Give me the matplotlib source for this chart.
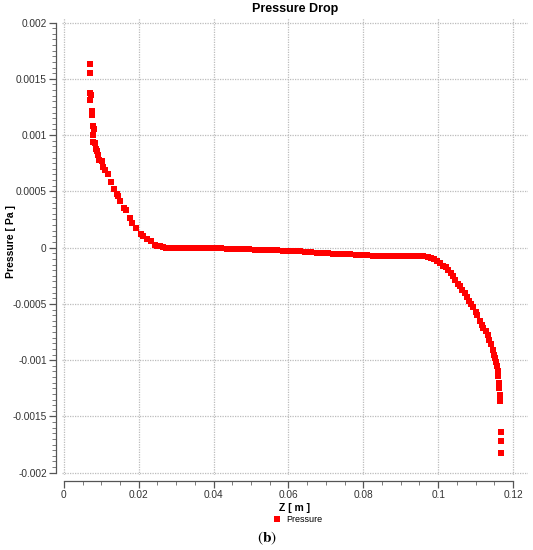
import numpy as np
from matplotlib import pyplot as plt
from matplotlib.ticker import MultipleLocator, FuncFormatter

# Z position [m] and pressure [Pa]
z_inlet = [0.0069, 0.0070, 0.0070, 0.0073, 0.0071, 0.0074, 0.0075, 0.0077, 0.0080, 0.0079,
           0.0078, 0.0083, 0.0086, 0.0089, 0.0092, 0.0094, 0.0101, 0.0105, 0.0110, 0.0117,
           0.0125, 0.0135, 0.0142, 0.0145, 0.0151, 0.0161, 0.0166, 0.0176, 0.0183, 0.0194,
           0.0206, 0.0212, 0.0223, 0.0232, 0.0243, 0.0250, 0.0257, 0.0265, 0.0274]
p_inlet = [0.00163, 0.00155, 0.00137, 0.00136, 0.00131, 0.00121, 0.00118, 0.00108, 0.00105, 0.00100,
           0.00094, 0.00093, 0.00088, 0.00086, 0.00082, 0.00078, 0.00077, 0.00072, 0.00069, 0.00065,
           0.00058, 0.00052, 0.00048, 0.00046, 0.00041, 0.00035, 0.00033, 0.00026, 0.00022, 0.000175,
           0.00012, 0.00010, 0.000077, 0.000056, 0.000027, 0.000018, 0.000012, 0.000005, 0.0]

z_mid = [0.0285, 0.0300, 0.0315, 0.0330, 0.0345, 0.0360, 0.0375, 0.0390, 0.0405, 0.0420,
         0.0435, 0.0450, 0.0465, 0.0480, 0.0495, 0.0510, 0.0525, 0.0540, 0.0555, 0.0570,
         0.0585, 0.0600, 0.0615, 0.0630, 0.0645, 0.0660, 0.0675, 0.0690, 0.0705, 0.0720,
         0.0735, 0.0750, 0.0765, 0.0780, 0.0795, 0.0810, 0.0825, 0.0840, 0.0855, 0.0870,
         0.0885, 0.0900, 0.0915, 0.0930, 0.0945, 0.0960, 0.0972]
p_mid = [0.0, 0.0, 0.0, 0.0, 0.0, -0.000001, -0.000002, -0.000003, -0.000004, -0.000006,
         -0.000008, -0.000010, -0.000012, -0.000014, -0.000016, -0.000018, -0.000019, -0.000021, -0.000023, -0.000024,
         -0.000026, -0.000028, -0.000030, -0.000033, -0.000036, -0.000040, -0.000044, -0.000047, -0.000050, -0.000053,
         -0.000055, -0.000057, -0.000060, -0.000063, -0.000066, -0.000068, -0.000070, -0.000071, -0.000072, -0.000073,
         -0.000074, -0.000075, -0.000075, -0.000076, -0.000076, -0.000077, -0.000080]

z_outlet = [0.0982, 0.0990, 0.0998, 0.1006, 0.1013, 0.1020, 0.1027, 0.1034, 0.1040, 0.1046,
            0.1052, 0.1058, 0.1065, 0.1072, 0.1078, 0.1083, 0.1088, 0.1094, 0.1100, 0.1105,
            0.1111, 0.1116, 0.1121, 0.1128, 0.1132, 0.1137, 0.1142, 0.1146, 0.1150, 0.1152,
            0.1155, 0.1157, 0.1159, 0.1160, 0.1162, 0.1163, 0.1165, 0.1165, 0.1167, 0.1169, 0.1169]
p_outlet = [-0.000088, -0.000100, -0.000120, -0.000140, -0.000160, -0.000175, -0.000196, -0.000225, -0.000255, -0.000290,
            -0.000320, -0.000344, -0.000375, -0.000405, -0.000440, -0.000470, -0.000500, -0.000530, -0.000570, -0.000600,
            -0.000650, -0.000684, -0.000710, -0.000745, -0.000780, -0.000818, -0.000860, -0.000907, -0.000950, -0.000980,
            -0.001020, -0.001055, -0.001100, -0.001144, -0.001200, -0.001247, -0.001307, -0.001366, -0.001640, -0.001716, -0.001825]

z = np.array(z_inlet + z_mid + z_outlet)
pressure = np.array(p_inlet + p_mid + p_outlet)

x_ticks = [0, 0.02, 0.04, 0.06, 0.08, 0.1, 0.12]
y_ticks = [-0.002, -0.0015, -0.001, -0.0005, 0, 0.0005, 0.001, 0.0015, 0.002]

plt.rcParams["font.family"] = ["Liberation Sans", "DejaVu Sans"]

fig = plt.figure(figsize=(5.33, 5.5), dpi=100)
ax = fig.add_axes([62 / 533, 75 / 550, 466 / 533, 457 / 550])

ax.plot(z, pressure, linestyle="none", marker="s", markersize=4.4,
        markeredgewidth=0, color="#ff0000", label="Pressure")

ax.set_xlim(-0.0005, 0.124)
ax.set_ylim(-0.00202, 0.00204)

ax.set_xticks(x_ticks)
ax.set_yticks(y_ticks)
ax.xaxis.set_minor_locator(MultipleLocator(0.005))
ax.yaxis.set_minor_locator(MultipleLocator(0.00005))
fmt = FuncFormatter(lambda v, _: "0" if abs(v) < 1e-12 else ("%g" % v))
ax.xaxis.set_major_formatter(fmt)
ax.yaxis.set_major_formatter(fmt)

ax.grid(True, which="major", color="#bcbcbc", linestyle=(0, (1, 1)), linewidth=0.9)

for side in ["top", "right"]:
    ax.spines[side].set_visible(False)
ax.spines["left"].set_position(("outward", 4))
ax.spines["bottom"].set_position(("outward", 4))
ax.spines["left"].set_bounds(-0.002, 0.002)
ax.spines["bottom"].set_bounds(0, 0.12)
for side in ["left", "bottom"]:
    ax.spines[side].set_color("#555555")
    ax.spines[side].set_linewidth(0.9)

ax.tick_params(which="major", direction="out", length=5, width=0.9, color="#555555",
               labelsize=7.3, labelcolor="#333333", pad=2)
ax.tick_params(which="minor", direction="out", length=3, width=0.6, color="#666666")

ax.set_title("Pressure Drop", fontsize=9, fontweight="bold", pad=4)
ax.set_xlabel("Z [ m ]", fontsize=7.5, fontweight="bold", labelpad=2)
ax.set_ylabel("Pressure [ Pa ]", fontsize=7.5, fontweight="bold")
ax.yaxis.set_label_coords(-0.098, 0.51)

fig.legend(loc="center", bbox_to_anchor=(298 / 533, 1 - 520 / 550), frameon=False,
           fontsize=6.5, handlelength=0.8, handletextpad=0.6, markerscale=1.1)

fig.text(0.5, 1 - 538 / 550, r"$(\mathbf{b})$", ha="center", va="center",
         fontsize=11, math_fontfamily="stix")

fig.savefig("out.png", dpi=100)
